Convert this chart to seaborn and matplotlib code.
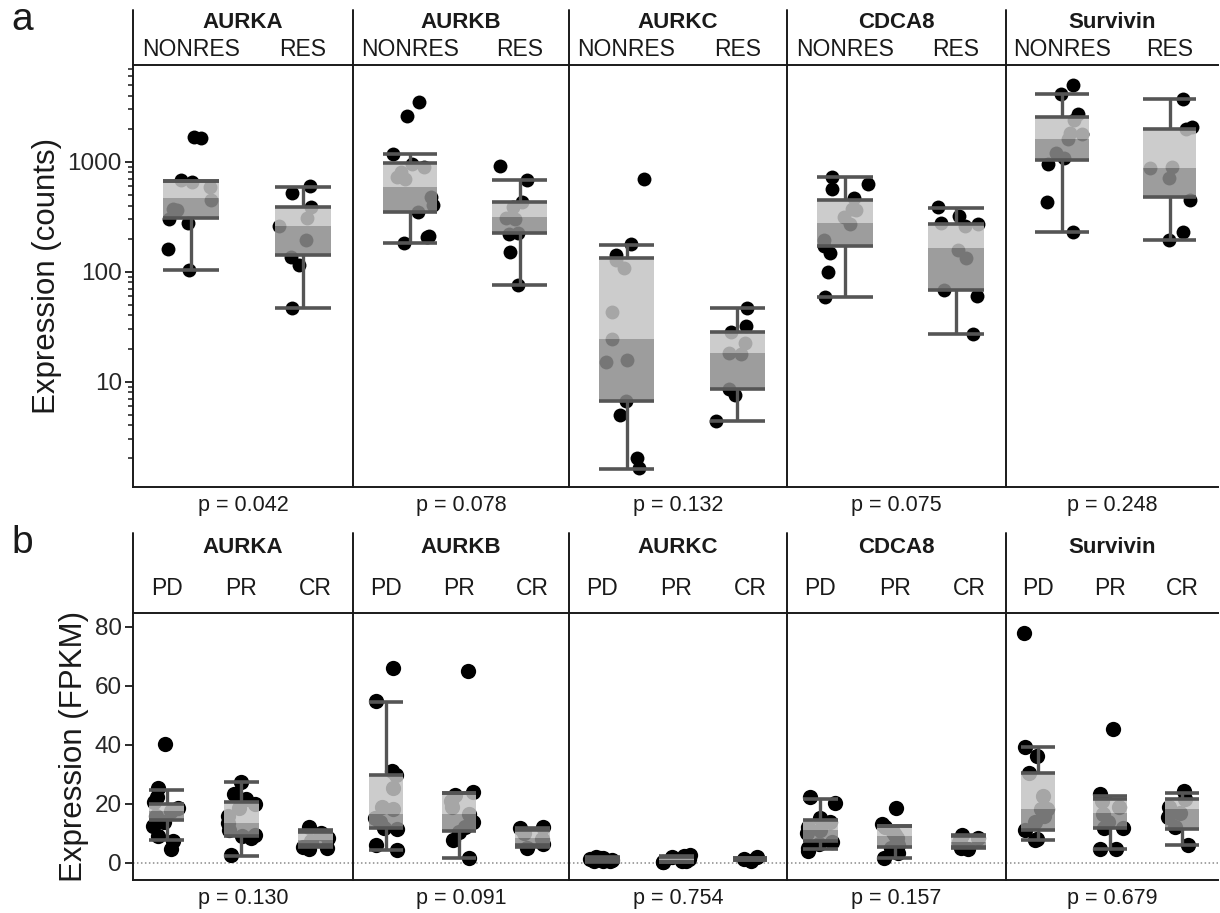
import numpy as np
import pandas as pd
import matplotlib
matplotlib.use("Agg")
import matplotlib.pyplot as plt
from matplotlib.ticker import LogLocator, FuncFormatter, NullFormatter, FixedLocator
import seaborn as sns

# ---------------------------------------------------------------- data
genes = ["AURKA", "AURKB", "AURKC", "CDCA8", "Survivin"]

# panel a: expression (counts), non-responders vs responders
groups_a = ["NONRES", "RES"]
aurka_nonres = [1690, 1650, 680, 660, 590, 450, 370, 365, 300, 275, 160, 103]
aurka_res = [600, 517, 385, 306, 258, 194, 137, 114, 46.5]
aurkb_nonres = [3510, 2600, 1180, 960, 900, 800, 730, 700, 480, 405, 351, 212, 205, 181]
aurkb_res = [914, 678, 433, 390, 305, 300, 226, 220, 150, 75.7]
aurkc_nonres = [692, 178, 142, 128, 107, 43, 24.5, 15.8, 15, 6.6, 5.0, 2.0, 1.63]
aurkc_res = [46.5, 32.3, 28.5, 22.3, 18.3, 17.8, 8.6, 7.5, 4.4]
cdca8_nonres = [730, 627, 562, 465, 369, 365, 316, 272, 194, 172, 149, 99, 59]
cdca8_res = [387, 321, 275, 272, 260, 157, 133, 68, 60, 27.2]
survivin_nonres = [4980, 4150, 2750, 2400, 1830, 1800, 1600, 1200, 1080, 950, 433, 230]
survivin_res = [3690, 2080, 2000, 890, 880, 715, 448, 228, 194]

# box summaries for panel a (gene x group order)
a_lo = [103, 46.5, 181, 75.7, 1.6, 4.4, 58.9, 27.2, 230, 194]
a_q1 = [306, 141, 351, 226, 6.7, 8.6, 172, 68.2, 1040, 474]
a_med = [465, 260, 585, 316, 24.4, 18.1, 275, 163, 1600, 882]
a_q3 = [670, 385, 967, 433, 134, 28.5, 445, 270, 2550, 1983]
a_hi = [670, 593, 1182, 678, 175, 46.4, 722, 382, 4150, 3690]
p_a = ["0.042", "0.078", "0.132", "0.075", "0.248"]

# panel b: expression (FPKM) by best response
groups_b = ["PD", "PR", "CR"]
aurka_pd = [40.3, 25.4, 22.5, 20.5, 18.5, 17.5, 16.0, 14.0, 12.5, 9.0, 7.5, 4.7]
aurka_pr = [27.3, 23.2, 21.5, 20.0, 18.6, 16.0, 13.5, 11.0, 9.5, 9.0, 8.5, 2.7]
aurka_cr = [12.0, 10.0, 8.5, 7.5, 5.5, 5.0, 4.8]
aurkb_pd = [66.1, 54.8, 31.3, 29.7, 25.4, 19.0, 18.3, 15.3, 14.0, 11.9, 11.5, 6.2, 4.3]
aurkb_pr = [65.2, 24.0, 23.0, 21.0, 19.0, 16.5, 14.0, 12.0, 10.5, 7.9, 1.7]
aurkb_cr = [12.0, 11.8, 10.0, 8.0, 6.5, 5.2]
aurkc_pd = [2.0, 1.8, 1.6, 1.2, 1.0, 0.8, 0.6, 0.5]
aurkc_pr = [2.8, 2.3, 1.9, 1.2, 0.8, 0.5, 0.3, 0.2]
aurkc_cr = [1.9, 1.4, 0.8]
cdca8_pd = [22.2, 20.3, 15.1, 14.0, 12.3, 11.0, 10.0, 7.2, 6.5, 5.0, 4.0]
cdca8_pr = [18.6, 13.2, 12.0, 10.5, 9.5, 8.5, 6.0, 5.2, 3.4, 1.5]
cdca8_cr = [9.6, 8.5, 7.0, 6.0, 5.0, 4.8]
survivin_pd = [78.0, 39.2, 36.1, 30.5, 22.6, 18.4, 18.4, 16.0, 14.0, 11.3, 8.0, 7.8]
survivin_pr = [45.4, 23.5, 21.0, 19.0, 16.5, 14.0, 11.9, 11.9, 4.8, 4.7]
survivin_cr = [24.2, 21.7, 19.0, 17.0, 15.5, 12.0, 6.0]

# box summaries for panel b (gene x group order)
b_lo = [7.7, 2.5, 5.4, 4.5, 1.7, 5.3, 0.4, 0.2, 0.9, 4.7, 1.7, 5.0, 7.9, 4.7, 6.0]
b_q1 = [14.4, 9.0, 6.0, 11.9, 10.7, 6.0, 0.6, 0.4, 1.0, 7.3, 5.3, 5.5, 11.3, 11.9, 11.6]
b_med = [17.5, 13.6, 7.8, 16.7, 16.7, 8.5, 1.2, 1.0, 1.3, 11.3, 9.0, 7.2, 18.4, 17.0, 18.1]
b_q3 = [19.8, 20.7, 10.5, 29.7, 23.6, 11.0, 1.7, 2.0, 1.6, 14.7, 12.6, 9.0, 30.5, 21.5, 21.7]
b_hi = [24.8, 27.3, 11.3, 54.6, 23.6, 11.9, 2.0, 2.4, 1.7, 21.8, 12.6, 9.3, 39.2, 22.6, 23.7]
p_b = ["0.130", "0.091", "0.754", "0.157", "0.679"]

values_a = [[aurka_nonres, aurka_res], [aurkb_nonres, aurkb_res], [aurkc_nonres, aurkc_res],
            [cdca8_nonres, cdca8_res], [survivin_nonres, survivin_res]]
values_b = [[aurka_pd, aurka_pr, aurka_cr], [aurkb_pd, aurkb_pr, aurkb_cr],
            [aurkc_pd, aurkc_pr, aurkc_cr], [cdca8_pd, cdca8_pr, cdca8_cr],
            [survivin_pd, survivin_pr, survivin_cr]]

# ---------------------------------------------------------------- style
sns.set_style("white")
plt.rcParams["font.family"] = ["Liberation Sans", "DejaVu Sans"]
plt.rcParams["axes.linewidth"] = 1.4

INK = "#1a1a1a"
LINE = "#555555"
LIGHT = "#c4c4c4"
DARK = "#8c8c8c"
np.random.seed(3)

W, H = 1220, 913
fig = plt.figure(figsize=(W / 100, H / 100), dpi=100)


def px_axes(x0, y0, x1, y1):
    return fig.add_axes([x0 / W, 1 - y1 / H, (x1 - x0) / W, (y1 - y0) / H])


def draw_boxes(ax, stats, width):
    for i, (lo, q1, med, q3, hi) in enumerate(stats):
        ax.bar(i, med - q1, bottom=q1, width=width, color=DARK, alpha=0.85, lw=0, zorder=3)
        ax.bar(i, q3 - med, bottom=med, width=width, color=LIGHT, alpha=0.85, lw=0, zorder=3)
        ax.vlines(i, lo, q1, color=LINE, lw=2.4, zorder=4)
        ax.vlines(i, q3, hi, color=LINE, lw=2.4, zorder=4)
        ax.hlines([lo, q1, q3, hi], i - width / 2, i + width / 2, color=LINE, lw=2.6, zorder=4)


def facet(ax, gene, cats, vals, stats, width, dot, jit, pval, head_top, gene_y, cat_y, p_y, first):
    df = pd.DataFrame({
        "group": np.repeat(cats, [len(v) for v in vals]),
        "value": np.concatenate(vals),
    })
    sns.stripplot(data=df, x="group", y="value", order=cats, color="black", size=dot,
                  jitter=jit, linewidth=0, ax=ax, zorder=2)
    draw_boxes(ax, stats, width)

    ax.spines["right"].set_visible(False)
    for side in ["left", "top", "bottom"]:
        ax.spines[side].set_color(INK)
        ax.spines[side].set_linewidth(1.4)
    # divider continues up through the header
    ax.plot([0, 0], [1, head_top], transform=ax.transAxes, color=INK, lw=1.4, clip_on=False)

    ax.set_xticks(range(len(cats)))
    ax.set_xticklabels([])
    ax.tick_params(axis="x", length=0)
    ax.set_xlabel("")
    tr = ax.get_xaxis_transform()
    for i, c in enumerate(cats):
        ax.text(i, cat_y, c, transform=tr, ha="center", va="center", fontsize=16.5, color=INK)
    ax.text(0.5, gene_y, gene, transform=ax.transAxes, ha="center", va="center",
            fontsize=16, fontweight="bold", color=INK)
    ax.text(0.5, p_y, f"p = {pval}", transform=ax.transAxes, ha="center", va="center",
            fontsize=15.5, color=INK)

    if not first:
        ax.tick_params(axis="y", which="both", left=False, labelleft=False)
        ax.set_ylabel("")


# facet column edges in pixels
x_edges = [133, 353, 569, 787, 1006, 1218]

# ---------------------------------------------------------------- panel a
for k, gene in enumerate(genes):
    ax = px_axes(x_edges[k], 65, x_edges[k + 1], 487)
    ax.set_yscale("log")
    stats = list(zip(a_lo[2 * k:2 * k + 2], a_q1[2 * k:2 * k + 2], a_med[2 * k:2 * k + 2],
                     a_q3[2 * k:2 * k + 2], a_hi[2 * k:2 * k + 2]))
    facet(ax, gene, groups_a, values_a[k], stats, 0.5, 10, 0.22, p_a[k],
          1 + 55 / 422, 1 + 42 / 422, 1 + 16 / 422, -18 / 422, k == 0)
    ax.set_xlim(-0.52, 1.45)
    ax.set_ylim(1.1, 7600)
    if k == 0:
        ax.yaxis.set_major_locator(FixedLocator([10, 100, 1000]))
        ax.yaxis.set_major_formatter(FuncFormatter(lambda v, _: f"{v:g}"))
        ax.yaxis.set_minor_locator(LogLocator(base=10, subs=np.arange(2, 10)))
        ax.yaxis.set_minor_formatter(NullFormatter())
        ax.tick_params(axis="y", which="major", length=6, width=1.3, color=INK,
                       labelsize=17.5, pad=2, left=True)
        ax.tick_params(axis="y", which="minor", length=3.5, width=1.1, color=INK, left=True)
        ax.set_ylabel("Expression (counts)", fontsize=22.5, color=INK, labelpad=4)

# ---------------------------------------------------------------- panel b
for k, gene in enumerate(genes):
    ax = px_axes(x_edges[k], 613, x_edges[k + 1], 880)
    stats = list(zip(b_lo[3 * k:3 * k + 3], b_q1[3 * k:3 * k + 3], b_med[3 * k:3 * k + 3],
                     b_q3[3 * k:3 * k + 3], b_hi[3 * k:3 * k + 3]))
    ax.axhline(0, color="#8a8a8a", lw=1.1, ls=(0, (1, 1.6)), zorder=1)
    facet(ax, gene, groups_b, values_b[k], stats, 0.47, 11, 0.2, p_b[k],
          1 + 80 / 267, 1 + 66 / 267, 1 + 25 / 267, -18 / 267, k == 0)
    ax.set_xlim(-0.45, 2.5)
    ax.set_ylim(-5.8, 84.7)
    if k == 0:
        ax.set_yticks([0, 20, 40, 60, 80])
        ax.tick_params(axis="y", which="major", length=6, width=1.3, color=INK,
                       labelsize=17.5, pad=2, left=True)
        ax.set_ylabel("Expression (FPKM)", fontsize=22.5, color=INK, labelpad=4)

fig.text(22 / W, 1 - 20 / H, "a", fontsize=28, ha="center", va="center", color=INK)
fig.text(22 / W, 1 - 543 / H, "b", fontsize=28, ha="center", va="center", color=INK)

fig.savefig("out.png", dpi=100, facecolor="white")
